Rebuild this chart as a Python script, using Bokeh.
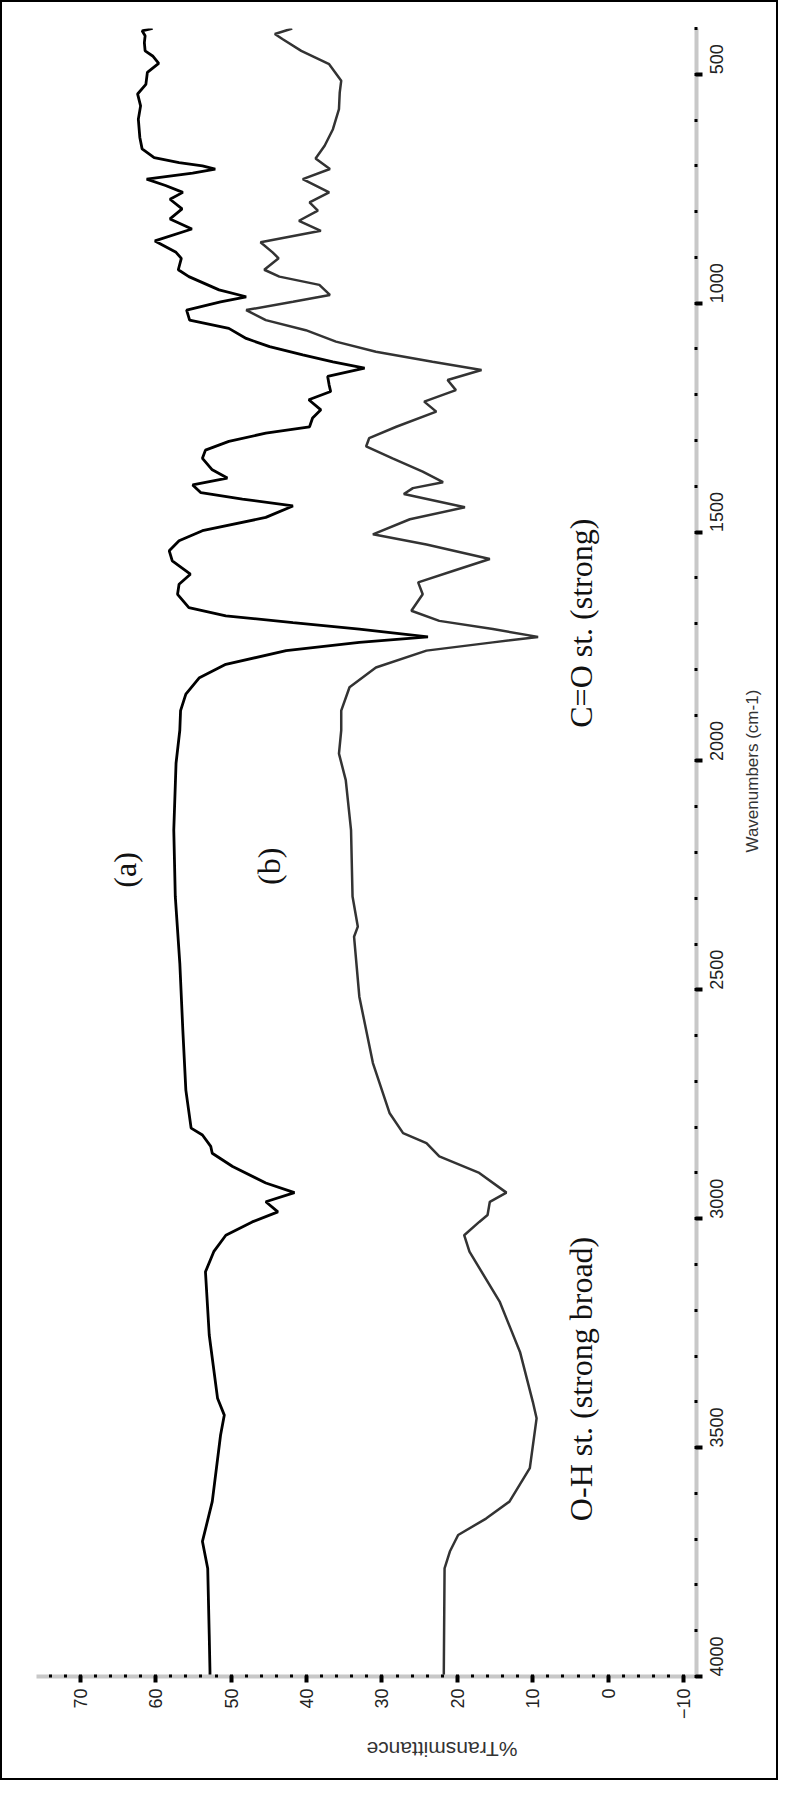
import math
from bokeh.plotting import figure
from bokeh.models import Range1d, LinearAxis, SingleIntervalTicker, Label
from bokeh.embed import file_html
from bokeh.resources import INLINE

# ---- data ----
wn_a = [400, 405, 416, 431, 449, 460, 476, 496, 522, 543, 569, 598, 638, 663, 682, 693, 700, 707, 716,
        729, 743, 758, 773, 794, 816, 838, 864, 889, 902, 927, 942, 971, 986, 997, 1015, 1037, 1055,
        1077, 1095, 1113, 1128, 1142, 1160, 1179, 1193, 1211, 1233, 1251, 1270, 1284, 1302, 1321, 1339,
        1364, 1382, 1397, 1414, 1428, 1443, 1468, 1497, 1519, 1541, 1563, 1592, 1614, 1636, 1665, 1683,
        1698, 1712, 1729, 1741, 1759, 1789, 1818, 1854, 1890, 1933, 2005, 2151, 2296, 2442, 2588, 2719,
        2802, 2817, 2842, 2857, 2886, 2922, 2943, 2963, 2985, 3007, 3036, 3072, 3116, 3254, 3392, 3429,
        3473, 3618, 3705, 3764, 3909, 3989, 4000]
t_a = [60.4, 61.8, 61.4, 61.5, 61.4, 60.4, 59.6, 61.1, 61.3, 62.4, 62.0, 62.3, 62.1, 61.8, 60.2, 56.9, 53.8, 52.1, 55.1,
       61.2, 58.7, 56.4, 58.1, 56.5, 58.1, 55.2, 60.1, 57.3, 56.6, 57.0, 55.6, 51.6, 48.0, 51.4, 55.9, 55.5, 50.3,
       48.0, 44.9, 40.5, 36.5, 32.3, 37.2, 37.0, 36.8, 39.7, 38.1, 39.2, 39.6, 45.4, 50.3, 53.4, 53.8,
       52.5, 50.5, 55.1, 54.0, 48.5, 41.8, 45.4, 53.8, 56.9, 58.2, 57.8, 55.4, 56.9, 57.1, 55.6, 50.7,
       41.8, 33.0, 23.9, 33.0, 42.7, 50.7, 54.2, 56.0, 56.7, 56.8, 57.3, 57.6, 57.4, 56.8, 56.4, 56.0,
       55.3, 53.8, 52.7, 52.5, 49.8, 45.4, 41.6, 45.4, 43.8, 47.2, 50.7, 52.3, 53.4, 52.9, 51.8, 50.9,
       51.4, 52.5, 53.8, 53.1, 52.9, 52.8, 52.8]

wn_b = [400, 412, 423, 449, 478, 514, 540, 576, 620, 656, 684, 707, 729, 758, 780, 798, 820, 842, 867, 889,
        902, 927, 942, 960, 982, 997, 1015, 1037, 1059, 1084, 1106, 1128, 1146, 1168, 1190, 1215, 1237,
        1270, 1295, 1313, 1339, 1368, 1391, 1404, 1417, 1446, 1472, 1505, 1527, 1559, 1585, 1610, 1636,
        1672, 1694, 1712, 1729, 1741, 1759, 1796, 1839, 1890, 1933, 1984, 2042, 2151, 2296, 2362, 2384,
        2515, 2660, 2769, 2813, 2835, 2864, 2900, 2943, 2963, 2992, 3007, 3036, 3072, 3181, 3291, 3400,
        3436, 3545, 3618, 3655, 3691, 3727, 3764, 3989, 4000]
t_b = [41.9, 44.2, 43.2, 40.7, 37.0, 35.4, 35.6, 35.7, 36.5, 37.6, 38.8, 36.9, 40.5, 37.0, 39.6, 38.5, 41.0, 38.1, 46.1, 44.5,
       43.7, 45.6, 43.6, 38.3, 36.9, 41.8, 48.0, 45.4, 40.1, 36.1, 30.8, 23.3, 16.8, 21.3, 20.2, 24.4, 22.8,
       28.1, 31.7, 32.1, 28.6, 24.6, 21.9, 25.9, 27.1, 19.0, 26.3, 31.2, 24.1, 15.7, 20.6, 25.2, 24.6,
       26.1, 22.4, 15.3, 9.3, 15.3, 24.1, 30.8, 34.3, 35.4, 35.4, 35.7, 34.8, 34.1, 33.9, 33.2, 33.7,
       33.0, 31.2, 29.0, 27.2, 24.1, 22.4, 17.1, 13.5, 15.7, 16.0, 17.1, 19.1, 18.4, 14.4, 11.7, 10.0,
       9.5, 10.4, 13.1, 16.2, 19.9, 21.0, 21.7, 21.8, 21.8]

x_title = "%Transmittance"
y_title = "Wavenumbers (cm-1)"
notes = ["(a)", "(b)", "C=O st. (strong)", "O-H st. (strong broad)"]
note_t = [64.1, 45.0, 3.6, 3.6]
note_wn = [2238, 2230, 1699, 3350]

# ---- figure ----
p = figure(width=778, height=1780,
           x_range=Range1d(75.8, -11.7), y_range=Range1d(4000, 400),
           x_axis_type=None, y_axis_type=None,
           output_backend="svg", toolbar_location=None)
p.min_border_left = 34
p.min_border_right = 84
p.min_border_top = 26
p.min_border_bottom = 106
p.outline_line_color = None
p.background_fill_color = "white"
p.border_fill_color = "white"
p.styles = {"border": "2px solid black"}


def style_axis(ax, standoff):
    ax.axis_line_color = "#c8c8c8"
    ax.axis_line_width = 4
    ax.major_tick_line_color = "black"
    ax.major_tick_line_width = 4
    ax.major_tick_in = 1
    ax.major_tick_out = 6
    ax.minor_tick_line_color = "black"
    ax.minor_tick_line_width = 3
    ax.minor_tick_in = 2
    ax.minor_tick_out = 1
    ax.major_label_orientation = math.pi / 2
    ax.major_label_text_font = "Liberation Sans"
    ax.major_label_text_font_size = "18px"
    ax.major_label_text_color = "#222222"
    ax.major_label_standoff = standoff
    ax.axis_label_text_font = "Liberation Sans"
    ax.axis_label_text_font_style = "normal"
    ax.axis_label_text_color = "#333333"


xaxis = LinearAxis(ticker=SingleIntervalTicker(interval=10, num_minor_ticks=5))
style_axis(xaxis, 6)
xaxis.axis_label = x_title
xaxis.axis_label_text_font_size = "21px"
xaxis.axis_label_standoff = 27
p.add_layout(xaxis, "below")

yaxis = LinearAxis(ticker=SingleIntervalTicker(interval=500, num_minor_ticks=5))
style_axis(yaxis, 14)
yaxis.axis_label = y_title
yaxis.axis_label_text_font_size = "17px"
yaxis.axis_label_standoff = 20
p.add_layout(yaxis, "right")

try:
    xaxis.axis_label_orientation = math.pi
    yaxis.axis_label_orientation = math.pi / 2
except AttributeError:
    pass

p.line(t_a, wn_a, line_color="black", line_width=2.8)
p.line(t_b, wn_b, line_color="#333333", line_width=2.5)

for txt, tt, ww in zip(notes, note_t, note_wn):
    p.add_layout(Label(x=tt, y=ww, text=txt, angle=math.pi / 2,
                       text_align="center", text_baseline="middle",
                       text_font="Liberation Serif", text_font_size="32px",
                       text_color="#111111"))

open("out.html", "w").write(file_html(p, INLINE))
